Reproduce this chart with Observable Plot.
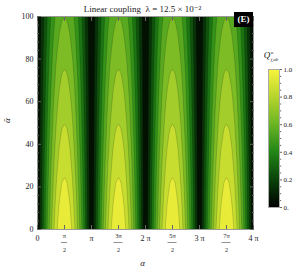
<!DOCTYPE html>
<html><head><meta charset="utf-8">
<script src="https://cdn.jsdelivr.net/npm/d3@7"></script>
<script src="https://cdn.jsdelivr.net/npm/@observablehq/plot@0.6"></script>
<style>
body{margin:0;background:#fff}
#wrap{position:relative;width:299px;height:274px;overflow:hidden;background:#fff}
#wrap svg{position:absolute;overflow:visible}
</style>
</head><body><div id="wrap"></div>
<script>
const PI = Math.PI;
// profile across one half period (alpha as fraction of pi)
const alphaFrac = [0, 0.02, 0.04, 0.06, 0.08, 0.10, 0.13, 0.16, 0.20, 0.25, 0.30, 0.35, 0.40, 0.45, 0.50];
const profile   = [0, 0.048, 0.102, 0.159, 0.217, 0.275, 0.362, 0.448, 0.557, 0.683, 0.792, 0.881, 0.946, 0.987, 1.0];
// value at alpha = pi/2 for each abar row
const abarRows = [0, 25, 50, 75, 100];
const centerQ  = [1.0, 0.899, 0.799, 0.702, 0.599];
const periods = [0, 1, 2, 3];
const thresholds = [0, 0.1, 0.2, 0.3, 0.4, 0.5, 0.6, 0.7, 0.8, 0.9];
const yTicks = [0, 20, 40, 60, 80, 100];
const xTickHalves = [0, 1, 2, 3, 4, 5, 6, 7, 8];
const xNum = ["0", "π", "π", "3π", "2 π", "5π", "3 π", "7π", "4 π"];
const xDen = ["", "2", "", "2", "", "2", "", "2", ""];
const legendTicks = [0, 0.2, 0.4, 0.6, 0.8, 1.0];
const legendLabels = ["0.", "0.2", "0.4", "0.6", "0.8", "1.0"];
const avocadoStops = ["#000000", "#0a420a", "#228616", "#6ab423", "#b6d52c", "#f8f43c"];

// table for the library
const points = [];
periods.forEach(k => {
  abarRows.forEach((b, j) => {
    alphaFrac.forEach((f, i) => {
      points.push({a: (k + f) * PI, b, q: centerQ[j] * profile[i]});
      if (f > 0 && f < 0.5) points.push({a: (k + 1 - f) * PI, b, q: centerQ[j] * profile[i]});
      if (f === 0 && k === periods.length - 1) points.push({a: (k + 1) * PI, b, q: 0});
    });
  });
});
const xTicks = xTickHalves.map((h, i) => ({v: h * PI / 2, num: xNum[i], den: xDen[i], frac: xDen[i] !== ""}));
const yMinor = d3.range(0, 101, 4).filter(d => d % 20 !== 0);
const avocado = d3.piecewise(d3.interpolateRgb, avocadoStops);
const font = "Liberation Serif, DejaVu Serif, serif";
const ink = "#222";

const main = Plot.plot({
  width: 299, height: 274,
  marginLeft: 37, marginRight: 46, marginTop: 16, marginBottom: 45,
  x: {domain: [0, 4 * PI], label: null},
  y: {domain: [0, 100], label: null},
  color: {type: "linear", domain: [-0.05, 0.95], interpolate: avocado, clamp: true},
  style: {fontFamily: font, fontSize: "8px", color: ink, background: "transparent"},
  marks: [
    Plot.contour(points, {x: "a", y: "b", fill: "q", thresholds, interpolate: "barycentric", pixelSize: 1,
      stroke: "#000", strokeOpacity: 0.3, strokeWidth: 0.5}),
    Plot.frame({stroke: "#999"}),
    // inward ticks on four sides
    Plot.axisY({anchor: "left", ticks: yTicks, tickSize: 4, dx: 4, tickFormat: () => "", stroke: "#666", label: null}),
    Plot.axisY({anchor: "left", ticks: yMinor, tickSize: 2, dx: 2, tickFormat: () => "", stroke: "#666", label: null}),
    Plot.axisY({anchor: "right", ticks: yTicks, tickSize: 4, dx: -4, tickFormat: () => "", stroke: "#666", label: null}),
    Plot.axisY({anchor: "right", ticks: yMinor, tickSize: 2, dx: -2, tickFormat: () => "", stroke: "#666", label: null}),
    Plot.axisX({anchor: "bottom", ticks: xTicks.map(d => d.v), tickSize: 4, dy: -4, tickFormat: () => "", stroke: "#666", label: null}),
    Plot.axisX({anchor: "top", ticks: xTicks.map(d => d.v), tickSize: 4, dy: 4, tickFormat: () => "", stroke: "#666", label: null}),
    // y tick labels
    Plot.axisY({anchor: "left", ticks: yTicks, tickSize: 0, tickPadding: 4, fill: ink, label: null}),
    // x tick labels
    Plot.text(xTicks.filter(d => !d.frac), {x: "v", text: "num", frameAnchor: "bottom", dy: 11, fontSize: 8, fill: ink}),
    Plot.text(xTicks.filter(d => d.frac), {x: "v", text: "num", frameAnchor: "bottom", dy: 8.5, fontSize: 6.5, fill: ink}),
    Plot.text(xTicks.filter(d => d.frac), {x: "v", text: "den", frameAnchor: "bottom", dy: 22, fontSize: 6, fill: ink}),
    // axis labels and title
    Plot.text(["α"], {frameAnchor: "bottom", dx: -3, dy: 36, fontSize: 9, fontStyle: "italic", fill: ink}),
    Plot.text(["ᾱ"], {frameAnchor: "left", dx: -30, rotate: -90, fontSize: 9, fontStyle: "italic", fill: ink}),
    Plot.text(["Linear coupling  λ = 12.5 × 10⁻²"], {frameAnchor: "top", dx: -3, dy: -10.5, fontSize: 9, fill: ink})
  ]
});
main.style.left = "0px"; main.style.top = "0px";
document.getElementById("wrap").appendChild(main);

{
  const xs = main.scale("x"), ys = main.scale("y");
  const svg = d3.select(main);
  // fraction bars under the half-multiple numerators
  const yb = ys.apply(0) + 13.5;
  xTicks.filter(d => d.frac).forEach(d => {
    const cx = xs.apply(d.v), hw = d.num.length > 1 ? 4.5 : 3;
    svg.append("line").attr("x1", cx - hw).attr("x2", cx + hw).attr("y1", yb).attr("y2", yb)
      .attr("stroke", ink).attr("stroke-width", 0.5);
  });
  // panel tag (E)
  const right = xs.apply(4 * PI), top = ys.apply(100);
  const g = svg.append("g");
  g.append("rect").attr("x", right - 19).attr("y", top - 4).attr("width", 19).attr("height", 15).attr("fill", "#000");
  g.append("text").attr("x", right - 9.5).attr("y", top + 3.5).attr("text-anchor", "middle").attr("dominant-baseline", "middle")
    .attr("fill", "#fff").attr("font-weight", "bold").attr("font-size", 9).attr("font-family", font).text("(E)");
}

// colour bar
const legendMinor = d3.range(0, 1.0001, 0.05).filter(d => Math.abs(d * 5 - Math.round(d * 5)) > 1e-6);
const bar = Plot.plot({
  width: 37, height: 172,
  marginLeft: 6, marginRight: 20, marginTop: 25, marginBottom: 9,
  x: {domain: [0, 1], axis: null},
  y: {domain: [0, 1], axis: null},
  color: {type: "linear", domain: [0, 1], interpolate: avocado},
  style: {fontFamily: font, fontSize: "7px", color: ink, background: "transparent"},
  marks: [
    Plot.raster({x1: 0, x2: 1, y1: 0, y2: 1, width: 1, height: 160, fill: (x, y) => y, imageRendering: "auto"}),
    Plot.frame({stroke: "#aaa"}),
    Plot.axisY({anchor: "right", ticks: legendTicks, tickFormat: (d, i) => legendLabels[i], tickSize: 2, tickPadding: 2, stroke: "#666", fill: ink, label: null}),
    Plot.axisY({anchor: "right", ticks: legendMinor, tickFormat: () => "", tickSize: 1.2, stroke: "#666", label: null})
  ]
});
bar.style.left = "262px"; bar.style.top = "44px";
document.getElementById("wrap").appendChild(bar);
{
  const t = d3.select(bar).append("text").attr("x", 9).attr("y", 14).attr("font-family", font).attr("fill", ink).attr("font-size", 9);
  t.append("tspan").attr("font-style", "italic").text("Q");
  t.append("tspan").attr("font-size", 5).attr("dy", -4).attr("dx", 0.5).text("u");
  t.append("tspan").attr("font-size", 5).attr("dy", 6.5).attr("dx", -2.5).attr("font-style", "italic").text("f,ab");
}
</script>
</body></html>
